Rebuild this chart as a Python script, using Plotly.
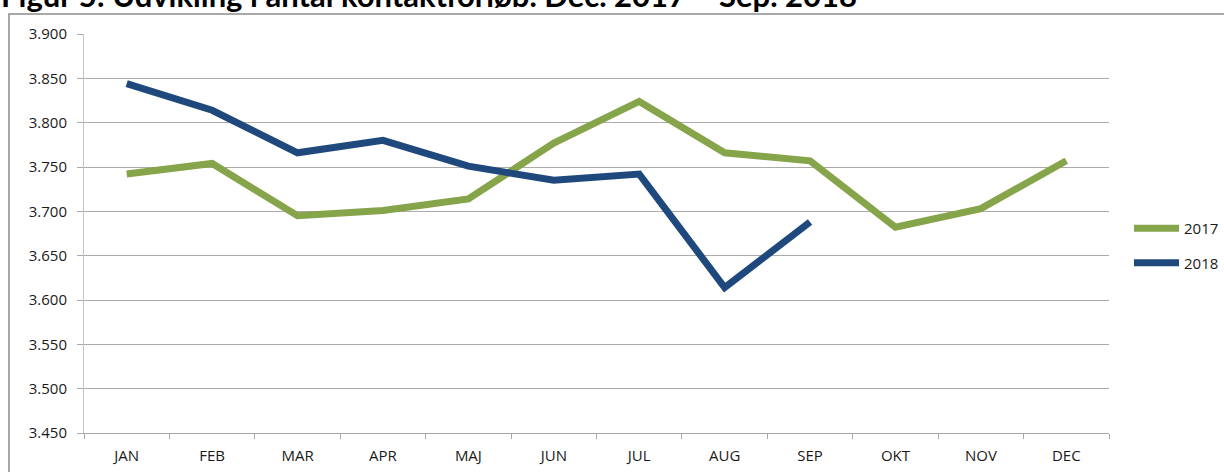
import plotly.graph_objects as go

months = ["JAN", "FEB", "MAR", "APR", "MAJ", "JUN", "JUL", "AUG", "SEP", "OKT", "NOV", "DEC"]
vals_2017 = [3742, 3754, 3695, 3701, 3714, 3777, 3824, 3766, 3757, 3682, 3703, 3757]
vals_2018 = [3844, 3814, 3766, 3780, 3751, 3735, 3742, 3614, 3688]
y_ticks = [3450, 3500, 3550, 3600, 3650, 3700, 3750, 3800, 3850, 3900]
y_tick_labels = ["3.450", "3.500", "3.550", "3.600", "3.650", "3.700", "3.750", "3.800", "3.850", "3.900"]
title_text = "Figur 5: Udvikling i antal kontaktforløb. Dec. 2017 – Sep. 2018"

W, H = 1224, 472
L, R, T, B = 84, 1109, 34, 433

fig = go.Figure()
fig.add_trace(go.Scatter(x=months, y=vals_2017, mode="lines", name="2017",
                         line=dict(color="#86A44A", width=7), legendgroup="a"))
fig.add_trace(go.Scatter(x=months[:len(vals_2018)], y=vals_2018, mode="lines", name="2018",
                         line=dict(color="#1F497D", width=7), legendgroup="b"))

def px_x(p):
    return (p - L) / (R - L)

def px_y(p):
    return (B - p) / (B - T)

fig.update_layout(
    width=W, height=H,
    margin=dict(l=L, r=W - R, t=T, b=H - B, pad=0, autoexpand=False),
    paper_bgcolor="white", plot_bgcolor="white",
    font=dict(family="'Open Sans', sans-serif", size=15, color="#1a1a1a"),
    showlegend=True,
    legend=dict(x=px_x(1129), y=px_y(212), xanchor="left", yanchor="top",
                font=dict(size=15, color="#1a1a1a"), tracegroupgap=12,
                itemwidth=45,
                traceorder="grouped", bgcolor="rgba(0,0,0,0)"),
    xaxis=dict(type="category", categoryorder="array", categoryarray=months,
               range=[-0.5, 11.5], showgrid=False, showline=True,
               linecolor="#A6A6A6", linewidth=1, ticks="outside",
               tickson="boundaries", ticklen=5, tickcolor="#A6A6A6",
               ticklabelstandoff=9,
               tickfont=dict(size=15, color="#1a1a1a"), fixedrange=True),
    yaxis=dict(range=[3450, 3900], tickvals=y_ticks, ticktext=y_tick_labels,
               showgrid=True, gridcolor="#ABABAB", gridwidth=1,
               showline=True, linecolor="#C4C4C4", linewidth=1,
               ticks="outside", ticklen=6, tickcolor="#ABABAB",
               ticklabelstandoff=7,
               tickfont=dict(size=15, color="#1a1a1a"), zeroline=False,
               fixedrange=True),
    shapes=[
        dict(type="rect", xref="paper", yref="paper",
             x0=px_x(9), x1=px_x(1240), y0=px_y(490), y1=px_y(14),
             line=dict(color="#8C8C8C", width=1.5), fillcolor="rgba(0,0,0,0)",
             layer="below"),
    ],
    annotations=[
        dict(text="<b>" + title_text + "</b>", xref="paper", yref="paper",
             x=px_x(-1), y=px_y(16), xanchor="left", yanchor="bottom",
             showarrow=False,
             font=dict(family="Lato, sans-serif", size=31, color="#000")),
    ],
)

fig.write_html("out.html", config={"displayModeBar": False},
               post_script="document.body.style.margin='0';document.body.style.overflow='hidden';")
